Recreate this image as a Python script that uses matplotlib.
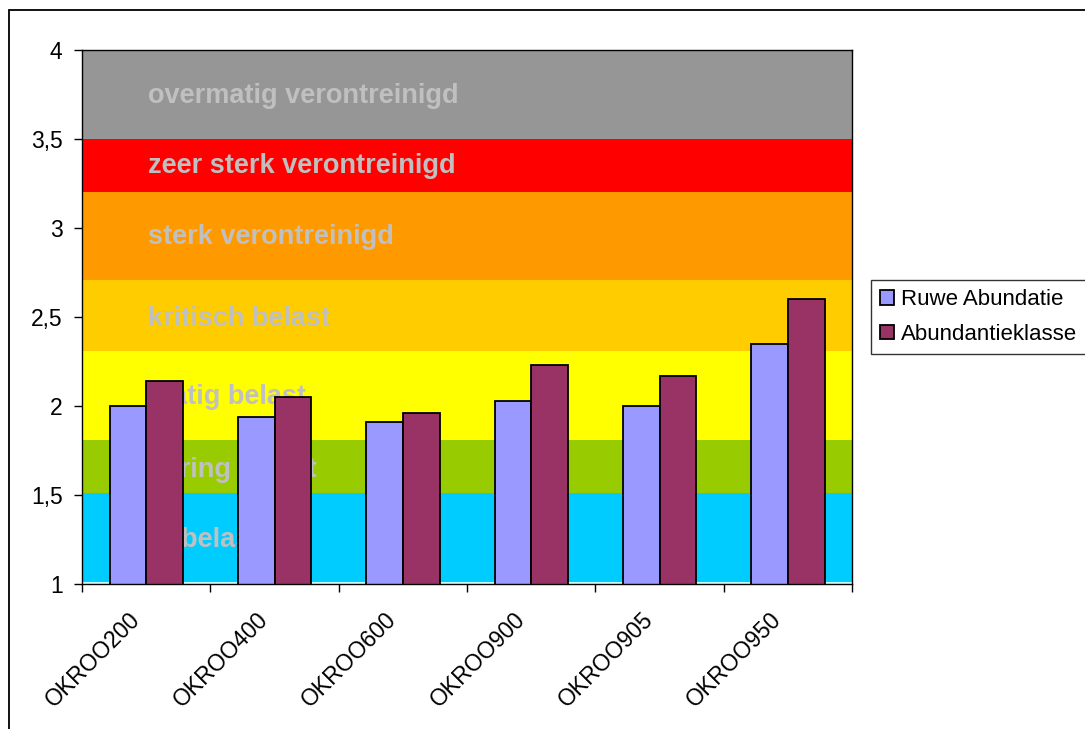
import numpy as np
import matplotlib.pyplot as plt
import matplotlib.transforms as mtransforms
from matplotlib.patches import Rectangle

plt.rcParams['font.family'] = ['Liberation Sans', 'DejaVu Sans']

stations = ['OKROO200', 'OKROO400', 'OKROO600', 'OKROO900', 'OKROO905', 'OKROO950']
ruwe = [2.00, 1.94, 1.91, 2.03, 2.00, 2.35]
klasse = [2.14, 2.05, 1.96, 2.23, 2.17, 2.60]

# quality classes: lower bound, upper bound, colour, label
band_low = [1.0, 1.01, 1.51, 1.81, 2.31, 2.71, 3.2, 3.5]
band_high = [1.01, 1.51, 1.81, 2.31, 2.71, 3.2, 3.5, 4.0]
band_colors = ['#ccffff', '#00ccff', '#99cc00', '#ffff00', '#ffcc00', '#ff9900', '#ff0000', '#969696']
band_labels = ['', 'onbelast', 'gering belast', 'matig belast', 'kritisch belast',
               'sterk verontreinigd', 'zeer sterk verontreinigd', 'overmatig verontreinigd']
label_y = [None, 1.25, 1.64, 2.05, 2.49, 2.95, 3.35, 3.74]

fig = plt.figure(figsize=(10.85, 7.29), dpi=100)
ax = fig.add_axes([0.0756, 0.1989, 0.7097, 0.7325])

for lo, hi, c in zip(band_low, band_high, band_colors):
    ax.axhspan(lo, hi, color=c, zorder=0, lw=0)
for lab, yy in zip(band_labels, label_y):
    if lab:
        ax.text(0.0857, yy, lab, transform=ax.get_yaxis_transform(), color='#c0c0c0',
                fontsize=19.5, fontweight='bold', va='center', ha='left', zorder=1)

x = np.arange(len(stations))
w = 1 / 3.5
ax.bar(x - w / 2, ruwe, w, color='#9999ff', edgecolor='black', lw=1.3, zorder=2,
       label='Ruwe Abundatie')
ax.bar(x + w / 2, klasse, w, color='#993366', edgecolor='black', lw=1.3, zorder=2,
       label='Abundantieklasse')

ax.set_ylim(1, 4)
ax.set_xlim(-0.5, 5.5)
ax.set_yticks([1, 1.5, 2, 2.5, 3, 3.5, 4])
ax.set_yticklabels(['1', '1,5', '2', '2,5', '3', '3,5', '4'], fontsize=16.5)
ax.set_xticks(np.arange(-0.5, 6, 1))
ax.set_xticklabels([])
ax.set_xticks(x, minor=True)
ax.set_xticklabels(stations, minor=True, rotation=45, ha='right', va='top',
                   rotation_mode='anchor', fontsize=16.5)
ax.tick_params(axis='x', which='minor', length=0, pad=17)
ax.tick_params(axis='both', which='major', length=6, width=1, direction='out')
ax.tick_params(axis='y', pad=8)
shift = mtransforms.ScaledTranslation(-18 / 100, 0, fig.dpi_scale_trans)
for lbl in ax.get_xticklabels(minor=True):
    lbl.set_transform(lbl.get_transform() + shift)
for s in ax.spines.values():
    s.set_linewidth(1)
    s.set_color('black')
    s.set_zorder(3)

leg = ax.legend(loc='center left', bbox_to_anchor=(1.025, 0.5), fontsize=16, frameon=True,
                fancybox=False, edgecolor='black', handlelength=0.6, handleheight=0.6,
                handletextpad=0.35, borderpad=0.4, labelspacing=0.6, borderaxespad=0)
leg.get_frame().set_linewidth(1)

# outer chart border
fig.patches.append(Rectangle((9 / 1085, -0.05), 1.1, 1 - 10 / 729 + 0.05,
                             transform=fig.transFigure, fill=False, edgecolor='black', lw=1.3))

fig.savefig('out.png', dpi=100)
